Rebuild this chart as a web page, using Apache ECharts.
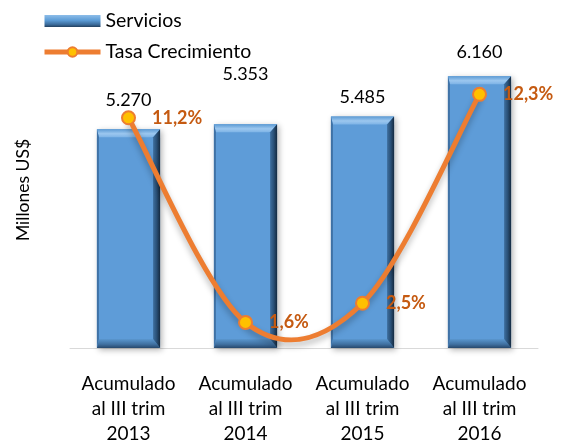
<!DOCTYPE html>
<html><head><meta charset="utf-8">
<script src="https://cdn.jsdelivr.net/npm/echarts@6/dist/echarts.min.js"></script>
<style>html,body{margin:0;padding:0;background:#fff}#c{width:561px;height:446px}</style>
</head><body><div id="c"></div>
<script>
var categories = ['Acumulado\nal III trim\n2013','Acumulado\nal III trim\n2014','Acumulado\nal III trim\n2015','Acumulado\nal III trim\n2016'];
var servicios = [5270, 5353, 5485, 6160];
var crecimiento = [11.2, 1.6, 2.5, 12.3];
var barLabelOffsets = [[0,-15],[0,-36],[0,-5],[0,-10]];

var FONT = 'Lato';
var BAR_RATIO = 0.54;
var chart = echarts.init(document.getElementById('c'));
var barData = servicios.map(function(v,i){
  return {value:v, label:{offset:barLabelOffsets[i]}};
});
var LG = echarts.graphic.LinearGradient;

function bevelItem(params, api){
  var i = api.value(0);
  var top = api.coord([i, api.value(1)]);
  var bw = api.size([1,0])[0]*BAR_RATIO;
  var cs = params.coordSys;
  var x0 = top[0]-bw/2, x1 = top[0]+bw/2, y0 = top[1], y1 = cs.y+cs.height;
  var d = 8, dr = 7, db = 9;
  return {type:'group', children:[
    {type:'polygon', shape:{points:[[x0,y0],[x1,y0],[x1-dr,y0+d],[x0+2,y0+d]]},
     style:{fill:new LG(0,0,0,1,[{offset:0,color:'#5d9bd4'},{offset:0.55,color:'#9cc7ef'},{offset:1,color:'#7db3e6'}])}},
    {type:'polygon', shape:{points:[[x0,y1],[x1,y1],[x1-dr,y1-db],[x0+2,y1-db]]},
     style:{fill:new LG(0,0,0,1,[{offset:0,color:'#5a97cf'},{offset:0.6,color:'#3f6f9f'},{offset:1,color:'#27486c'}])}},
    {type:'polygon', shape:{points:[[x1,y0],[x1,y1],[x1-dr,y1-db],[x1-dr,y0+d]]},
     style:{fill:new LG(0,0,1,0,[{offset:0,color:'#3e6f9f'},{offset:0.5,color:'#2a5178'},{offset:1,color:'#152a40'}])}},
    {type:'polygon', shape:{points:[[x0,y0],[x0+2,y0+d],[x0+2,y1-db],[x0,y1]]},
     style:{fill:'#3f72a6'}}
  ]};
}

function curveItem(params, api){
  if (params.dataIndex !== 0) return null;
  var p = crecimiento.map(function(v,i){ return api.coord([i, v]); });
  var n = p.length, path = 'M' + p[0][0] + ' ' + p[0][1];
  for (var k = 0; k < n-1; k++){
    var a = p[Math.max(k-1,0)], b = p[k], c = p[k+1], e = p[Math.min(k+2,n-1)];
    var c1 = [b[0]+(c[0]-a[0])/6, b[1]+(c[1]-a[1])/6];
    var c2 = [c[0]-(e[0]-b[0])/6, c[1]-(e[1]-b[1])/6];
    path += ' C' + c1[0] + ' ' + c1[1] + ' ' + c2[0] + ' ' + c2[1] + ' ' + c[0] + ' ' + c[1];
  }
  return {type:'path', shape:{pathData:path},
    style:{fill:'none', stroke:'#ED7D31', lineWidth:5, lineCap:'round',
      shadowColor:'rgba(0,0,0,0.28)', shadowBlur:6, shadowOffsetY:4}};
}

chart.setOption({
  animation:false,
  textStyle:{fontFamily:FONT},
  legend:{
    orient:'vertical', left:37, top:6, itemWidth:56, itemHeight:12, itemGap:11,
    textStyle:{fontSize:19.5, color:'#000', fontFamily:FONT},
    data:[{name:'Servicios', icon:'rect',
           itemStyle:{color:new LG(0,0,0,1,[{offset:0,color:'#8dbde9'},{offset:0.45,color:'#5b9bd5'},{offset:0.8,color:'#3a6a99'},{offset:1,color:'#22405f'}])}},
          {name:'Tasa Crecimiento', lineStyle:{color:'#ED7D31', width:5, opacity:1}}]
  },
  grid:{left:70, right:23, top:56, bottom:86},
  xAxis:{type:'category', data:categories,
    axisLine:{lineStyle:{color:'#d9d9d9', width:1}}, axisTick:{show:false},
    axisLabel:{interval:0, fontSize:19, color:'#000', lineHeight:25, margin:23, fontFamily:FONT}},
  yAxis:[
    {type:'value', min:1600, max:6500, show:true, splitLine:{show:false}, axisLine:{show:false}, axisTick:{show:false}, axisLabel:{show:false},
     name:'Millones US$', nameLocation:'middle', nameGap:38, nameRotate:90,
     nameTextStyle:{fontSize:17.5, color:'#000', fontFamily:FONT, padding:[0,0,0,24]}},
    {type:'value', min:0.4, max:14.1, show:false}
  ],
  series:[
    {name:'Servicios', type:'bar', barWidth:(BAR_RATIO*100)+'%', data:barData,
     itemStyle:{color:'#5e9cd8',
       shadowColor:'rgba(0,0,0,0.3)', shadowBlur:6, shadowOffsetX:2, shadowOffsetY:2},
     label:{show:true, position:'top', fontSize:18, color:'#000', fontFamily:FONT,
       formatter:function(p){return p.value.toLocaleString('de-DE');}}
    },
    {name:'bevel', type:'custom', data:servicios.map(function(v,i){return [i,v];}),
     renderItem:bevelItem, silent:true, z:3, clip:false},
    {name:'curve', type:'custom', yAxisIndex:1, data:crecimiento.map(function(v,i){return [i,v];}),
     renderItem:curveItem, silent:true, z:4, clip:false},
    {name:'Tasa Crecimiento', type:'line', yAxisIndex:1, data:crecimiento,
     symbol:'circle', symbolSize:13,
     lineStyle:{color:'#ED7D31', width:5, opacity:0},
     itemStyle:{color:'#FFC000', borderColor:'#ED7D31', borderWidth:2},
     label:{show:true, position:'right', distance:16, fontSize:18, fontWeight:'bold', color:'#C55A11', fontFamily:FONT,
       formatter:function(p){return p.value.toFixed(1).replace('.',',')+'%';}},
     z:5
    }
  ]
});
</script></body></html>
